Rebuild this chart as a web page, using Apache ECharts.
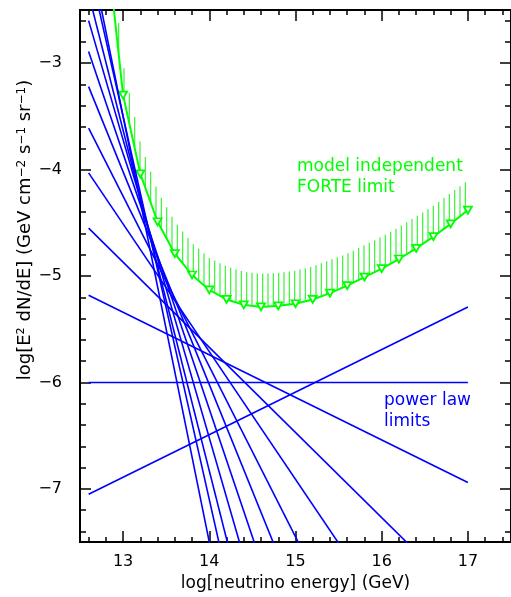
<!DOCTYPE html>
<html>
<head>
<meta charset="utf-8">
<script src="https://cdn.jsdelivr.net/npm/echarts@6/dist/echarts.min.js"></script>
<style>
html, body { margin: 0; padding: 0; background: #fff; }
#main { width: 511px; height: 597px; }
</style>
</head>
<body>
<div id="main"></div>
<script>
// FORTE limit curve (log E, log E^2 dN/dE)
var forteX = [12.8, 13.0, 13.2, 13.4, 13.6, 13.8, 14.0, 14.2, 14.4, 14.6, 14.8,
	15.0, 15.2, 15.4, 15.6, 15.8, 16.0, 16.2, 16.4, 16.6, 16.8, 17.0];
var forteY = [-1.80, -3.30, -4.04, -4.49, -4.79, -4.99, -5.13, -5.22, -5.27, -5.29, -5.28,
	-5.26, -5.22, -5.16, -5.09, -5.01, -4.93, -4.84, -4.74, -4.63, -4.51, -4.38];
// height of the hatched band above the curve
var hatchH = [0.30, 0.29, 0.29, 0.29, 0.30, 0.30, 0.30, 0.31, 0.31, 0.31, 0.31,
	0.31, 0.31, 0.31, 0.30, 0.30, 0.30, 0.30, 0.30, 0.29, 0.29, 0.28];

// power law limits: value at left end and right end
var powerX = [12.6, 17.0];
var powerStart = [-7.05, -6.00, -5.18, -4.55, -4.03, -3.61, -3.22, -2.89, -2.60, -2.35, -2.06, -1.90];
var powerEnd = [-5.29, -6.00, -6.94, -8.07, -9.31, -10.65, -12.02, -13.45, -14.92, -16.43, -17.90, -19.50];

// ticks
var xMajor = [13, 14, 15, 16, 17];
var xMinor = [12.6, 12.8, 13.2, 13.4, 13.6, 13.8, 14.2, 14.4, 14.6, 14.8, 15.2, 15.4, 15.6, 15.8,
	16.2, 16.4, 16.6, 16.8, 17.2, 17.4];
var yMajor = [-7, -6, -5, -4, -3];
var yMinor = [-7.4, -7.2, -6.8, -6.6, -6.4, -6.2, -5.8, -5.6, -5.4, -5.2, -4.8, -4.6, -4.4, -4.2,
	-3.8, -3.6, -3.4, -3.2, -2.8, -2.6];

var GREEN = '#00ff00';
var BLUE = '#0000ff';
var FONT = 'DejaVu Sans';
var HATCH_STEP = 16 / 3; // px between hatch strokes

function axis(kind, pos, ticks, len, withLabels) {
	var a = {
		type: 'value',
		position: pos,
		min: kind == 'x' ? 12.5 : -7.5,
		max: kind == 'x' ? 17.5 : -2.5,
		axisLine: { show: true, onZero: false, lineStyle: { color: '#000', width: 2 } },
		axisTick: { show: true, inside: true, length: len, customValues: ticks,
			lineStyle: { color: '#000', width: 1.5 } },
		axisLabel: { show: false },
		splitLine: { show: false }
	};
	if (withLabels) {
		a.axisLabel = {
			show: true,
			customValues: ticks,
			color: '#000',
			fontFamily: FONT,
			fontSize: 16,
			margin: kind == 'x' ? 12 : 18,
			formatter: function (v) {
				return v < 0 ? '\u2212' + (-v) : String(v);
			}
		};
	}
	return a;
}

var xAxes = [
	axis('x', 'bottom', xMajor, 11, true),
	axis('x', 'bottom', xMinor, 5, false),
	axis('x', 'top', xMajor, 11, false),
	axis('x', 'top', xMinor, 5, false)
];
xAxes[0].name = 'log[neutrino energy] (GeV)';
xAxes[0].nameLocation = 'middle';
xAxes[0].nameGap = 31;
xAxes[0].nameTextStyle = { color: '#000', fontFamily: FONT, fontSize: 17 };

var yAxes = [
	axis('y', 'left', yMajor, 11, true),
	axis('y', 'left', yMinor, 6, false),
	axis('y', 'right', yMajor, 11, false),
	axis('y', 'right', yMinor, 6, false)
];

// vertical hatch strokes filling the band between the curve and curve + hatchH
function renderHatch(params, api) {
	var i = params.dataIndex;
	if (i >= forteX.length - 1) return;
	var lo0 = api.coord([forteX[i], forteY[i]]);
	var lo1 = api.coord([forteX[i + 1], forteY[i + 1]]);
	var hi0 = api.coord([forteX[i], forteY[i] + hatchH[i]]);
	var hi1 = api.coord([forteX[i + 1], forteY[i + 1] + hatchH[i + 1]]);
	var cs = params.coordSys;
	var top = cs.y, bottom = cs.y + cs.height;
	var kids = [];
	var x = Math.ceil((lo0[0] - 1.33) / HATCH_STEP) * HATCH_STEP + 1.33;
	for (; x < lo1[0]; x += HATCH_STEP) {
		var t = (x - lo0[0]) / (lo1[0] - lo0[0]);
		var yb = lo0[1] + t * (lo1[1] - lo0[1]);
		var yt = hi0[1] + t * (hi1[1] - hi0[1]);
		if (yb <= top) continue;
		if (yt < top) yt = top;
		if (yb > bottom) yb = bottom;
		kids.push({
			type: 'line',
			shape: { x1: x, y1: yb, x2: x, y2: yt },
			style: { stroke: '#3cf03c', lineWidth: 1.2 }
		});
	}
	return { type: 'group', children: kids };
}

var series = [];

var forteData = [], hatchData = [];
for (var i = 0; i < forteX.length; i++) {
	var p = { value: [forteX[i], forteY[i]] };
	if (forteY[i] > -2.5) p.symbol = 'none';
	forteData.push(p);
	hatchData.push([forteX[i], forteY[i], hatchH[i]]);
}

series.push({
	name: 'hatch',
	type: 'custom',
	data: hatchData,
	encode: { x: 0, y: 1 },
	renderItem: renderHatch,
	silent: true,
	z: 2
});
series.push({
	name: 'FORTE',
	type: 'line',
	data: forteData,
	symbol: 'triangle',
	symbolRotate: 180,
	symbolSize: [8, 7],
	lineStyle: { color: GREEN, width: 2 },
	itemStyle: { color: '#ffffff', borderColor: GREEN, borderWidth: 1.8 },
	z: 3
});

for (var k = 0; k < powerStart.length; k++) {
	series.push({
		type: 'line',
		data: [[powerX[0], powerStart[k]], [powerX[1], powerEnd[k]]],
		symbol: 'none',
		lineStyle: { color: BLUE, width: 1.6 },
		z: 4
	});
}

var myChart = echarts.init(document.getElementById('main'));
var option = {
	animation: false,
	grid: { left: 80, top: 10, width: 434, height: 533 },
	xAxis: xAxes,
	yAxis: yAxes,
	series: series,
	graphic: [
		{
			type: 'text',
			x: 25, y: 230,
			rotation: Math.PI / 2,
			style: {
				text: 'log[E² dN/dE] (GeV cm{s|\u22122} s{s|\u22121} sr{s|\u22121})',
				font: '18px "DejaVu Sans"',
				fill: '#000',
				align: 'center',
				verticalAlign: 'middle',
				rich: {
					s: { fontSize: 12, fontFamily: FONT, verticalAlign: 'top', lineHeight: 12, fill: '#000' }
				}
			}
		},
		{
			type: 'text',
			x: 297, y: 156,
			style: {
				text: 'model independent\nFORTE limit',
				font: '17px "DejaVu Sans"',
				lineHeight: 21,
				fill: GREEN
			}
		},
		{
			type: 'text',
			x: 384, y: 390,
			style: {
				text: 'power law\nlimits',
				font: '17px "DejaVu Sans"',
				lineHeight: 21,
				fill: BLUE
			}
		}
	]
};
myChart.setOption(option);
</script>
</body>
</html>
